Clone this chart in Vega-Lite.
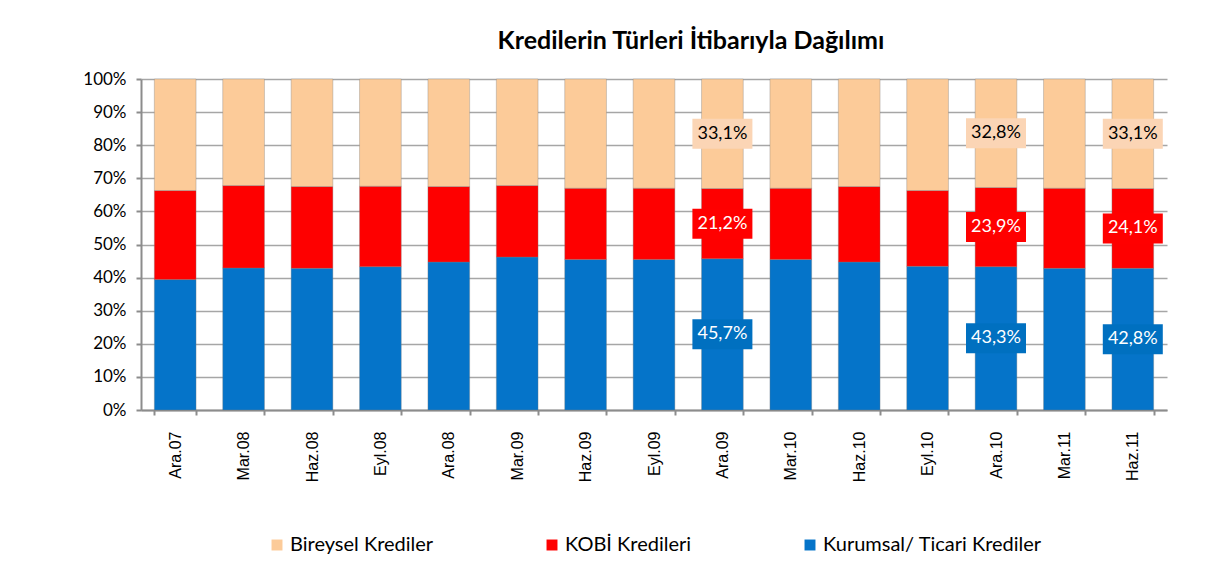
{
  "$schema": "https://vega.github.io/schema/vega-lite/v6.json",
  "width": 1026,
  "height": 331,
  "autosize": {"type": "none"},
  "padding": {"left": 141, "top": 79, "right": 48, "bottom": 178},
  "background": "white",
  "title": {"text": "Kredilerin Türleri İtibarıyla Dağılımı", "font": "Lato", "fontSize": 25, "fontWeight": "bold", "color": "#000000", "anchor": "middle", "offset": 16, "dx": 37},
  "data": {"values": [
    {"date": "Ara.07", "type": "Kurumsal/ Ticari  Krediler", "value": 39.4},
    {"date": "Ara.07", "type": "KOBİ Kredileri", "value": 26.9},
    {"date": "Ara.07", "type": "Bireysel Krediler", "value": 33.7},
    {"date": "Mar.08", "type": "Kurumsal/ Ticari  Krediler", "value": 42.9},
    {"date": "Mar.08", "type": "KOBİ Kredileri", "value": 24.9},
    {"date": "Mar.08", "type": "Bireysel Krediler", "value": 32.2},
    {"date": "Haz.08", "type": "Kurumsal/ Ticari  Krediler", "value": 42.8},
    {"date": "Haz.08", "type": "KOBİ Kredileri", "value": 24.7},
    {"date": "Haz.08", "type": "Bireysel Krediler", "value": 32.5},
    {"date": "Eyl.08", "type": "Kurumsal/ Ticari  Krediler", "value": 43.3},
    {"date": "Eyl.08", "type": "KOBİ Kredileri", "value": 24.3},
    {"date": "Eyl.08", "type": "Bireysel Krediler", "value": 32.4},
    {"date": "Ara.08", "type": "Kurumsal/ Ticari  Krediler", "value": 44.7},
    {"date": "Ara.08", "type": "KOBİ Kredileri", "value": 22.8},
    {"date": "Ara.08", "type": "Bireysel Krediler", "value": 32.5},
    {"date": "Mar.09", "type": "Kurumsal/ Ticari  Krediler", "value": 46.2},
    {"date": "Mar.09", "type": "KOBİ Kredileri", "value": 21.6},
    {"date": "Mar.09", "type": "Bireysel Krediler", "value": 32.2},
    {"date": "Haz.09", "type": "Kurumsal/ Ticari  Krediler", "value": 45.5},
    {"date": "Haz.09", "type": "KOBİ Kredileri", "value": 21.5},
    {"date": "Haz.09", "type": "Bireysel Krediler", "value": 33.0},
    {"date": "Eyl.09", "type": "Kurumsal/ Ticari  Krediler", "value": 45.5},
    {"date": "Eyl.09", "type": "KOBİ Kredileri", "value": 21.5},
    {"date": "Eyl.09", "type": "Bireysel Krediler", "value": 33.0},
    {"date": "Ara.09", "type": "Kurumsal/ Ticari  Krediler", "value": 45.7},
    {"date": "Ara.09", "type": "KOBİ Kredileri", "value": 21.2},
    {"date": "Ara.09", "type": "Bireysel Krediler", "value": 33.1},
    {"date": "Mar.10", "type": "Kurumsal/ Ticari  Krediler", "value": 45.5},
    {"date": "Mar.10", "type": "KOBİ Kredileri", "value": 21.5},
    {"date": "Mar.10", "type": "Bireysel Krediler", "value": 33.0},
    {"date": "Haz.10", "type": "Kurumsal/ Ticari  Krediler", "value": 44.7},
    {"date": "Haz.10", "type": "KOBİ Kredileri", "value": 22.8},
    {"date": "Haz.10", "type": "Bireysel Krediler", "value": 32.5},
    {"date": "Eyl.10", "type": "Kurumsal/ Ticari  Krediler", "value": 43.4},
    {"date": "Eyl.10", "type": "KOBİ Kredileri", "value": 22.9},
    {"date": "Eyl.10", "type": "Bireysel Krediler", "value": 33.7},
    {"date": "Ara.10", "type": "Kurumsal/ Ticari  Krediler", "value": 43.3},
    {"date": "Ara.10", "type": "KOBİ Kredileri", "value": 23.9},
    {"date": "Ara.10", "type": "Bireysel Krediler", "value": 32.8},
    {"date": "Mar.11", "type": "Kurumsal/ Ticari  Krediler", "value": 42.8},
    {"date": "Mar.11", "type": "KOBİ Kredileri", "value": 24.2},
    {"date": "Mar.11", "type": "Bireysel Krediler", "value": 33.0},
    {"date": "Haz.11", "type": "Kurumsal/ Ticari  Krediler", "value": 42.8},
    {"date": "Haz.11", "type": "KOBİ Kredileri", "value": 24.1},
    {"date": "Haz.11", "type": "Bireysel Krediler", "value": 33.1}
  ]},
  "encoding": {
    "x": {
      "field": "date", "type": "nominal", "sort": null,
      "scale": {"paddingInner": 0.39, "paddingOuter": 0.195},
      "axis": {
        "title": null, "labelAngle": -90, "labelAlign": "right", "labelBaseline": "middle",
        "labelFont": "Liberation Sans", "labelFontSize": 16, "labelColor": "#000000",
        "labelPadding": 16, "tickBand": "extent", "tickSize": 5, "tickColor": "#8C8C8C", "tickWidth": 2,
        "domainColor": "#8C8C8C", "domainWidth": 2, "grid": false
      }
    }
  },
  "layer": [
    {
      "mark": {"type": "bar", "stroke": "#7f7f7f", "strokeOpacity": 0.35, "strokeWidth": 1},
      "encoding": {
        "y": {
          "field": "value", "type": "quantitative", "stack": "normalize",
          "scale": {"domain": [0, 1], "nice": false},
          "axis": {
            "title": null, "format": ".0%", "values": [0, 0.1, 0.2, 0.3, 0.4, 0.5, 0.6, 0.7, 0.8, 0.9, 1],
            "tickCount": 12, "labelOverlap": false,
            "labelFont": "Lato", "labelFontSize": 17, "labelColor": "#000000", "labelPadding": 10,
            "tickSize": 5, "tickColor": "#8C8C8C", "tickWidth": 2,
            "domainColor": "#8C8C8C", "domainWidth": 2,
            "grid": true, "gridColor": "#A6A6A6", "gridWidth": 1.5
          }
        },
        "color": {
          "field": "type", "type": "nominal",
          "scale": {
            "domain": ["Bireysel Krediler", "KOBİ Kredileri", "Kurumsal/ Ticari  Krediler"],
            "range": ["#FCCB99", "#FE0000", "#0574C9"]
          },
          "legend": {
            "title": null, "orient": "none", "legendX": 126, "legendY": 456, "direction": "horizontal",
            "symbolType": "square", "symbolSize": 120, "symbolStrokeWidth": 0,
            "labelFont": "Lato", "labelFontSize": 20, "labelColor": "#000000", "labelOffset": 3,
            "labelLimit": 400, "columnPadding": 108
          }
        },
        "order": {"field": "type", "sort": "descending"}
      }
    },
    {
      "transform": [
        {"filter": "datum.date == 'Ara.09' || datum.date == 'Ara.10' || datum.date == 'Haz.11'"},
        {"stack": "value", "groupby": ["date"], "sort": [{"field": "type", "order": "descending"}], "offset": "normalize", "as": ["v0", "v1"]},
        {"calculate": "(datum.v0 + datum.v1) / 2", "as": "mid"}
      ],
      "mark": {"type": "point", "shape": "M-1,-0.5L1,-0.5L1,0.5L-1,0.5Z", "size": 3600, "filled": true, "opacity": 1, "strokeWidth": 0},
      "encoding": {
        "y": {"field": "mid", "type": "quantitative", "axis": null},
        "fill": {
          "field": "type", "type": "nominal",
          "scale": {
            "domain": ["Bireysel Krediler", "KOBİ Kredileri", "Kurumsal/ Ticari  Krediler"],
            "range": ["#FBD5B5", "#FF0000", "#0070C0"]
          },
          "legend": null
        }
      }
    },
    {
      "transform": [
        {"filter": "datum.date == 'Ara.09' || datum.date == 'Ara.10' || datum.date == 'Haz.11'"},
        {"stack": "value", "groupby": ["date"], "sort": [{"field": "type", "order": "descending"}], "offset": "normalize", "as": ["v0", "v1"]},
        {"calculate": "(datum.v0 + datum.v1) / 2", "as": "mid"},
        {"calculate": "replace(format(datum.value, '.1f'), '.', ',') + '%'", "as": "label"}
      ],
      "mark": {"type": "text", "font": "Lato", "fontSize": 18, "align": "center", "baseline": "middle"},
      "encoding": {
        "y": {"field": "mid", "type": "quantitative", "axis": null},
        "text": {"field": "label"},
        "color": {"condition": {"test": "datum.type == 'Bireysel Krediler'", "value": "#000000"}, "value": "#FFFFFF"}
      }
    }
  ],
  "resolve": {"axis": {"y": "independent"}},
  "config": {"view": {"stroke": null}}
}
